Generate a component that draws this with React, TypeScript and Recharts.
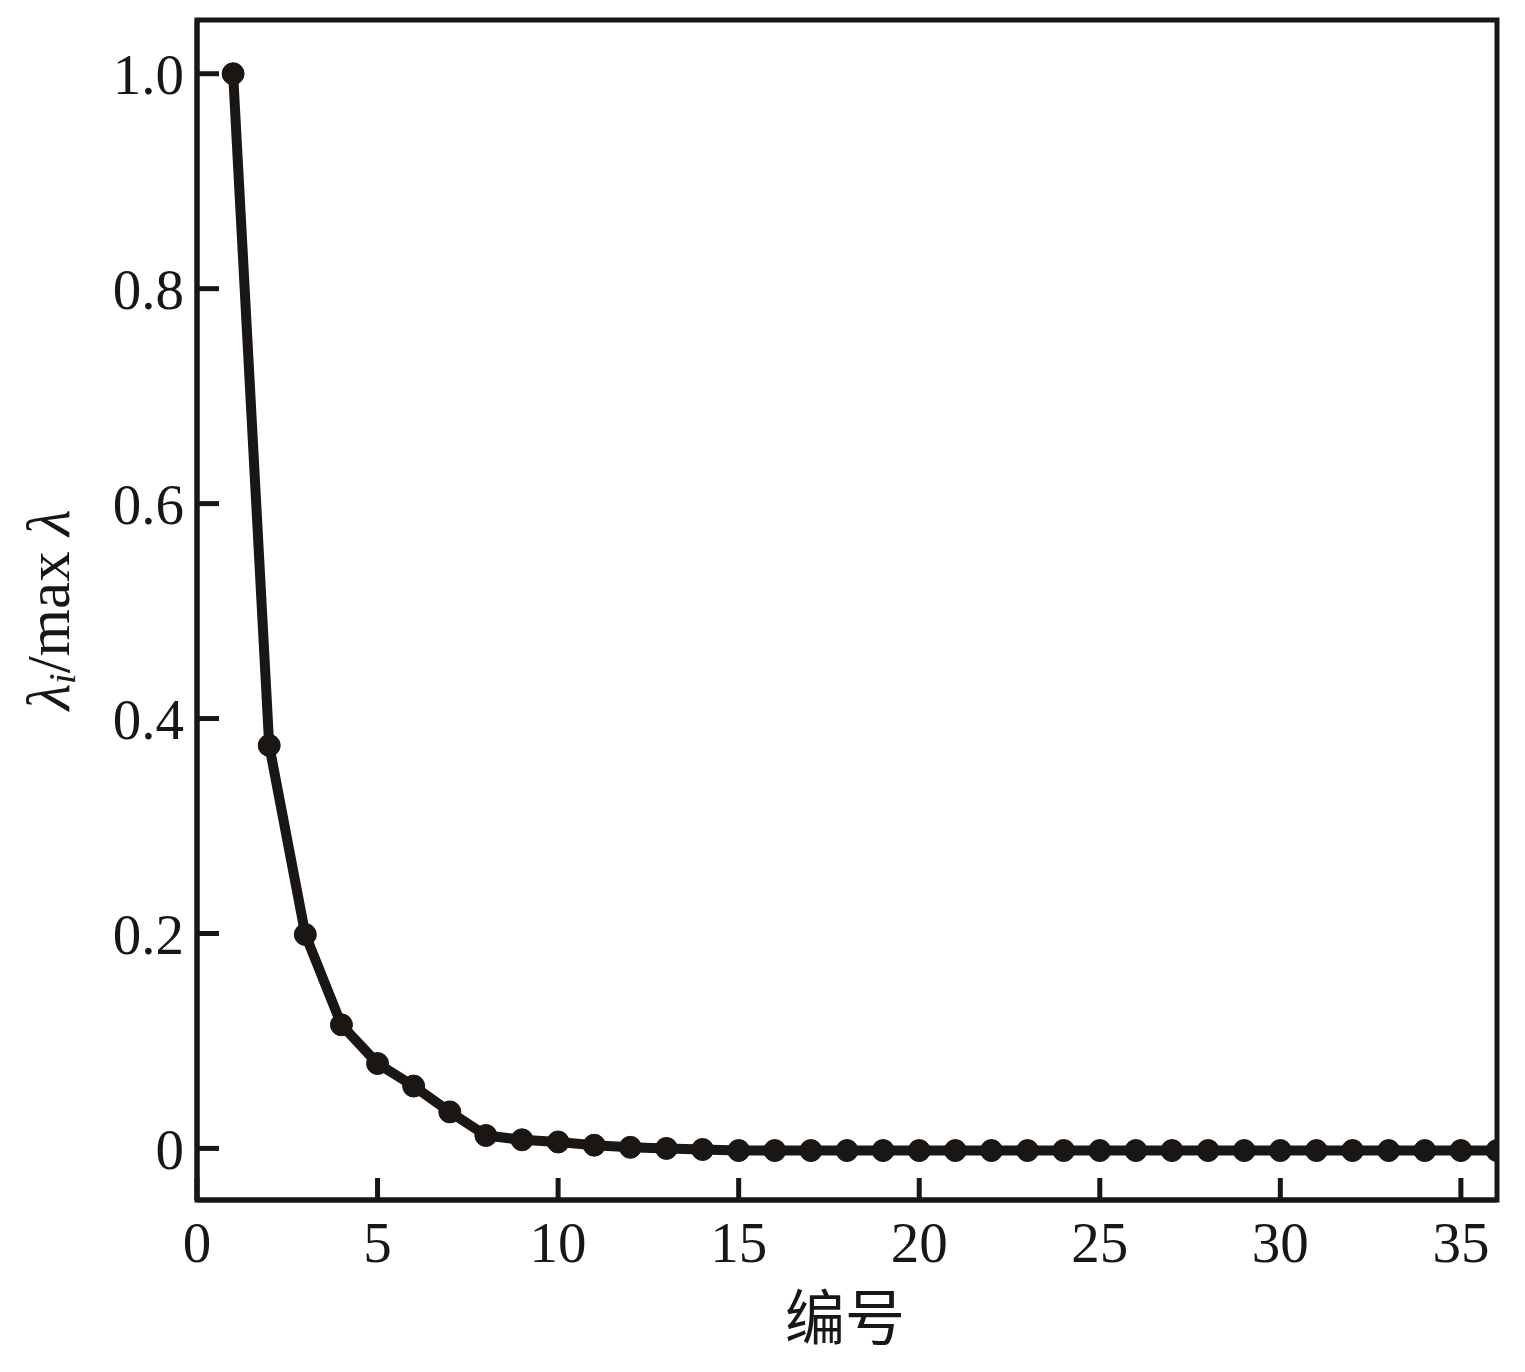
import React from 'react';
import { LineChart, Line, XAxis, YAxis, ReferenceArea } from 'recharts';

const INK = '#1a1614';

const indices = [
  1, 2, 3, 4, 5, 6, 7, 8, 9, 10, 11, 12, 13, 14, 15, 16, 17, 18,
  19, 20, 21, 22, 23, 24, 25, 26, 27, 28, 29, 30, 31, 32, 33, 34, 35, 36,
];
const ratios = [
  1.0, 0.375, 0.199, 0.115, 0.079, 0.058, 0.034, 0.012, 0.008, 0.006, 0.003, 0.001,
  0.0, -0.001, -0.002, -0.002, -0.002, -0.002, -0.002, -0.002, -0.002, -0.002, -0.002, -0.002,
  -0.002, -0.002, -0.002, -0.002, -0.002, -0.002, -0.002, -0.002, -0.002, -0.002, -0.002, -0.002,
];
const xTicks = [0, 5, 10, 15, 20, 25, 30, 35];
const yTicks = [0, 0.2, 0.4, 0.6, 0.8, 1.0];
const xLabel = '编号';

const data = indices.map((n, i) => ({ n, r: ratios[i] }));

const Y_MIN = -0.048;
const Y_MAX = 1.05;

const SERIF = '"Liberation Serif", "Times New Roman", serif';
const tickFont = { fontSize: 57, fill: INK, fontFamily: SERIF };

function YLabel() {
  const cx = 48;
  const cy = 610;
  return (
    <text
      x={cx}
      y={cy}
      transform={`rotate(-90, ${cx}, ${cy})`}
      textAnchor="middle"
      dominantBaseline="central"
      fontSize={61}
      fill={INK}
      fontFamily={SERIF}
    >
      <tspan fontStyle="italic">λ</tspan>
      <tspan fontStyle="italic" fontSize={38} dy={14}>i</tspan>
      <tspan dy={-14}>/max </tspan>
      <tspan fontStyle="italic">λ</tspan>
    </text>
  );
}

function XLabel() {
  return (
    <text
      x={845}
      y={1340}
      textAnchor="middle"
      fontSize={60}
      fill={INK}
      fontFamily='"Noto Sans CJK SC", serif'
    >
      {xLabel}
    </text>
  );
}

export default function App() {
  return (
    <div style={{ position: 'absolute', left: 0, top: 0, background: '#fff' }}>
      <LineChart
        width={1525}
        height={1372}
        data={data}
        margin={{ top: 20, right: 28, bottom: 0, left: 0 }}
      >
        <ReferenceArea
          x1={0}
          x2={36}
          y1={Y_MIN}
          y2={Y_MAX}
          fill="none"
          stroke={INK}
          strokeWidth={5}
          ifOverflow="visible"
        />
        <XAxis
          dataKey="n"
          type="number"
          domain={[0, 36]}
          ticks={xTicks}
          allowDataOverflow
          height={172}
          tickSize={-22}
          tickMargin={44}
          tick={tickFont}
          tickLine={{ stroke: INK, strokeWidth: 5 }}
          axisLine={{ stroke: INK, strokeWidth: 5 }}
          label={<XLabel />}
        />
        <YAxis
          type="number"
          domain={[Y_MIN, Y_MAX]}
          ticks={yTicks}
          allowDataOverflow
          width={197}
          tickSize={-22}
          tickMargin={35}
          tick={tickFont}
          tickFormatter={(v: number) => (v === 0 ? '0' : v.toFixed(1))}
          tickLine={{ stroke: INK, strokeWidth: 5 }}
          axisLine={{ stroke: INK, strokeWidth: 5 }}
          label={<YLabel />}
        />
        <Line
          type="linear"
          dataKey="r"
          stroke={INK}
          strokeWidth={10}
          dot={{ r: 11, fill: INK, stroke: INK, strokeWidth: 1 }}
          activeDot={false}
          isAnimationActive={false}
        />
      </LineChart>
    </div>
  );
}
